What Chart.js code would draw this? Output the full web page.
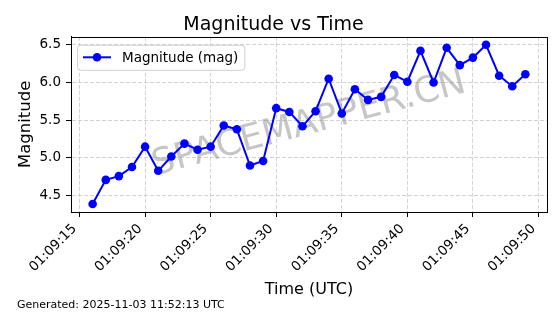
<!DOCTYPE html>
<html>
<head>
<meta charset="utf-8">
<script src="https://cdn.jsdelivr.net/npm/chart.js@4.4.1/dist/chart.umd.min.js"></script>
<style>
  html, body { margin: 0; padding: 0; background: #fff; }
  #wrap { position: relative; width: 560px; height: 314px; }
  #footer { position: absolute; left: 17px; top: 298px; font: 11px "DejaVu Sans", sans-serif; color: #000; white-space: nowrap; }
</style>
</head>
<body>
<div id="wrap">
  <canvas id="chart" width="560" height="314"></canvas>
  <div id="footer">Generated: 2025-11-03 11:52:13 UTC</div>
</div>
<script>
var times = [
    '01:09:16', '01:09:17', '01:09:18', '01:09:19', '01:09:20', '01:09:21',
    '01:09:22', '01:09:23', '01:09:24', '01:09:25', '01:09:26', '01:09:27',
    '01:09:28', '01:09:29', '01:09:30', '01:09:31', '01:09:32', '01:09:33',
    '01:09:34', '01:09:35', '01:09:36', '01:09:37', '01:09:38', '01:09:39',
    '01:09:40', '01:09:41', '01:09:42', '01:09:43', '01:09:44', '01:09:45',
    '01:09:46', '01:09:47', '01:09:48', '01:09:49'
];
var magnitudes = [
    4.39, 4.71, 4.76, 4.88, 5.15, 4.83,
    5.02, 5.19, 5.11, 5.15, 5.43, 5.38,
    4.90, 4.96, 5.66, 5.61, 5.42, 5.62,
    6.05, 5.59, 5.91, 5.77, 5.81, 6.10,
    6.01, 6.42, 6.00, 6.46, 6.23, 6.33,
    6.50, 6.09, 5.95, 6.11
];
var xTickLabels = ['01:09:15', '01:09:20', '01:09:25', '01:09:30', '01:09:35', '01:09:40', '01:09:45', '01:09:50'];
var yTicks = [4.5, 5.0, 5.5, 6.0, 6.5];
var seriesLabel = 'Magnitude (mag)';
var watermarkText = 'SPACEMAPPER.CN';

function toSeconds(t) {
    var p = t.split(':');
    return (+p[0]) * 3600 + (+p[1]) * 60 + (+p[2]);
}
function pad2(n) { return (n < 10 ? '0' : '') + n; }
function toClock(s) {
    s = Math.round(s);
    return pad2(Math.floor(s / 3600)) + ':' + pad2(Math.floor(s / 60) % 60) + ':' + pad2(s % 60);
}

document.addEventListener('DOMContentLoaded', function() {
    Chart.defaults.font.family = '"DejaVu Sans", sans-serif';
    Chart.defaults.color = '#000';

    var xs = times.map(toSeconds);
    var xMin = Math.min.apply(null, xs), xMax = Math.max.apply(null, xs);
    var yMin = Math.min.apply(null, magnitudes), yMax = Math.max.apply(null, magnitudes);
    var xPad = (xMax - xMin) * 0.05, yPad = (yMax - yMin) * 0.05;

    var points = xs.map(function(x, i) { return { x: x, y: magnitudes[i] }; });

    var watermark = {
        id: 'watermark',
        beforeDatasetsDraw: function(chart) {
            var ctx = chart.ctx, a = chart.chartArea;
            ctx.save();
            ctx.translate((a.left + a.right) / 2, (a.top + a.bottom) / 2);
            ctx.rotate(-15 * Math.PI / 180);
            ctx.font = '36px "DejaVu Sans"';
            ctx.fillStyle = 'rgba(128, 128, 128, 0.45)';
            ctx.textAlign = 'center';
            ctx.textBaseline = 'middle';
            ctx.fillText(watermarkText, 0, 0);
            ctx.restore();
        }
    };

    var legendBox = {
        id: 'legendBox',
        afterDatasetsDraw: function(chart) {
            var ctx = chart.ctx, a = chart.chartArea;
            var label = chart.data.datasets[0].label;
            ctx.save();
            ctx.font = '13.5px "DejaVu Sans"';
            var x0 = a.left + 6, y0 = a.top + 8;
            var w = 45 + ctx.measureText(label).width + 6, h = 25;
            ctx.beginPath();
            ctx.roundRect(x0 + 0.5, y0 + 0.5, w, h, 3);
            ctx.fillStyle = 'rgba(255, 255, 255, 0.8)';
            ctx.fill();
            ctx.strokeStyle = '#d0d0d0';
            ctx.lineWidth = 1;
            ctx.stroke();
            var cy = y0 + h / 2;
            ctx.strokeStyle = '#0000ff';
            ctx.lineWidth = 2;
            ctx.beginPath();
            ctx.moveTo(x0 + 6, cy);
            ctx.lineTo(x0 + 34, cy);
            ctx.stroke();
            ctx.fillStyle = '#0000ff';
            ctx.beginPath();
            ctx.arc(x0 + 20, cy, 4.3, 0, Math.PI * 2);
            ctx.fill();
            ctx.fillStyle = '#000';
            ctx.textBaseline = 'middle';
            ctx.fillText(label, x0 + 45, cy + 1);
            ctx.restore();
        }
    };

    var frame = {
        id: 'frame',
        afterDraw: function(chart) {
            var ctx = chart.ctx, a = chart.chartArea;
            ctx.save();
            ctx.strokeStyle = '#000';
            ctx.lineWidth = 1;
            ctx.strokeRect(Math.round(a.left) + 0.5, Math.round(a.top) + 0.5,
                Math.round(a.right - a.left), Math.round(a.bottom - a.top));
            ctx.restore();
        }
    };

    var ctx = document.getElementById('chart').getContext('2d');
    var myChart = new Chart(ctx, {
        type: 'line',
        data: {
            datasets: [{
                label: seriesLabel,
                data: points,
                borderColor: '#0000ff',
                backgroundColor: '#0000ff',
                borderWidth: 2,
                pointRadius: 4.3,
                pointBorderWidth: 0,
                pointBackgroundColor: '#0000ff',
                tension: 0
            }]
        },
        options: {
            responsive: false,
            animation: false,
            devicePixelRatio: 1,
            layout: { padding: { left: 0, right: 13, top: 0, bottom: 0 } },
            plugins: {
                legend: { display: false },
                tooltip: { enabled: false },
                title: {
                    display: true,
                    text: 'Magnitude vs Time',
                    color: '#000',
                    font: { size: 19, weight: 'normal' },
                    padding: { top: 14, bottom: 0 }
                }
            },
            scales: {
                x: {
                    type: 'linear',
                    min: xMin - xPad,
                    max: xMax + xPad,
                    afterBuildTicks: function(scale) {
                        scale.ticks = xTickLabels.map(function(l) { return { value: toSeconds(l) }; });
                    },
                    afterFit: function(scale) { scale.height = 102; },
                    ticks: {
                        autoSkip: false,
                        minRotation: 45,
                        maxRotation: 45,
                        padding: 4,
                        labelOffset: -5,
                        color: '#000',
                        font: { size: 13.5 },
                        callback: function(v) { return toClock(v); }
                    },
                    grid: { color: '#c8c8c8', lineWidth: 0.8, tickColor: '#000', tickLength: 5, tickWidth: 1, tickBorderDash: [] },
                    border: { display: true, color: '#000', width: 1, dash: [4, 2] },
                    title: { display: true, text: 'Time (UTC)', color: '#000', font: { size: 16 }, padding: { top: 0, bottom: 15 } }
                },
                y: {
                    min: yMin - yPad,
                    max: yMax + yPad,
                    afterBuildTicks: function(scale) {
                        scale.ticks = yTicks.map(function(v) { return { value: v }; });
                    },
                    afterFit: function(scale) { scale.width = 71; },
                    ticks: {
                        padding: 5,
                        color: '#000',
                        font: { size: 13.5 },
                        callback: function(v) { return v.toFixed(1); }
                    },
                    grid: { color: '#c8c8c8', lineWidth: 0.8, tickColor: '#000', tickLength: 5, tickWidth: 1, tickBorderDash: [] },
                    border: { display: true, color: '#000', width: 1, dash: [4, 2] },
                    title: { display: true, text: 'Magnitude', color: '#000', font: { size: 16.5 }, padding: { top: 16, bottom: 0 } }
                }
            }
        },
        plugins: [watermark, legendBox, frame]
    });
});
</script>
</body>
</html>
